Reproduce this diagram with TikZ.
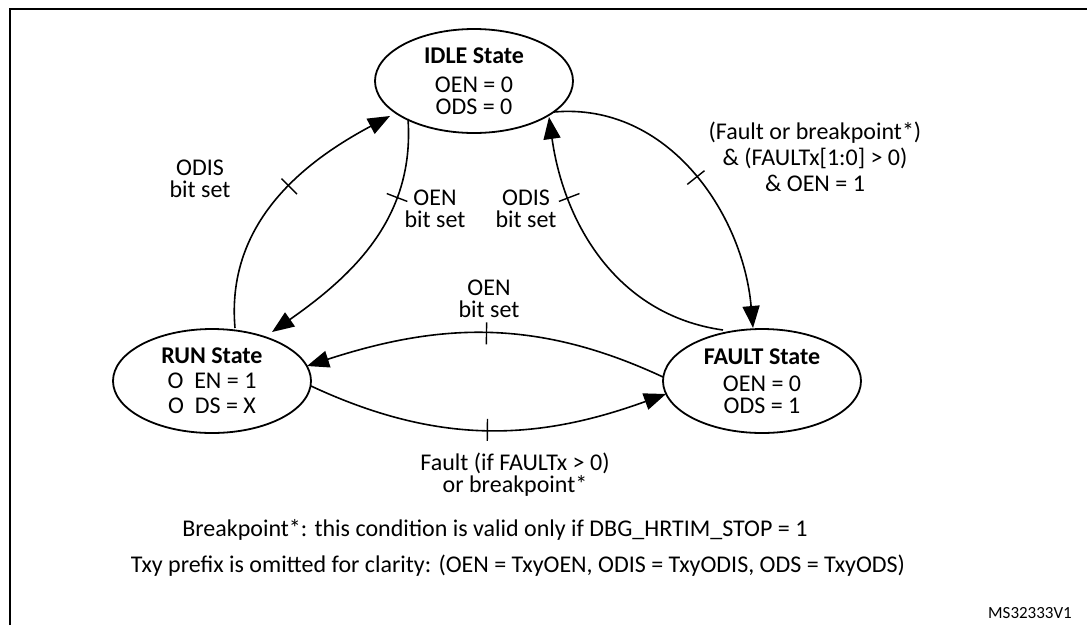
\documentclass[tikz,border=0pt]{standalone}
\usepackage{fontspec}
\setmainfont{Carlito}
\usetikzlibrary{arrows.meta,shapes.geometric,decorations.markings}
\begin{document}
\begin{tikzpicture}[x=1pt,y=-1pt,
  txt/.style={font=\fontsize{24}{22}\selectfont,align=center,inner sep=0pt},
  st/.style={draw,line width=1.8pt,ellipse,minimum width=198pt,minimum height=104pt,inner sep=0pt,align=center,font=\fontsize{24}{22}\selectfont},
  arc/.style={line width=1.6pt,-{Triangle[length=22pt,width=17pt]}},
  tick/.style={postaction={decorate},decoration={markings,mark=at position #1 with {\draw[-,line width=1.4pt] (0,-11pt)--(0,11pt);}}}]
\useasboundingbox (0,0) rectangle (1087,625);
\draw[line width=1.8pt] (10,625) -- (10,9) -- (1087,9);
\node[st] (idle) at (474,81) {\textbf{IDLE State}\\[7pt]OEN = 0\\ODS = 0};
\node[st] (run) at (212,381) {\textbf{RUN State}\\[3pt]O\ \ EN = 1\\[3pt]O\ \ DS = X};
\node[st] (fault) at (762,381) {\textbf{FAULT State}\\[5pt]OEN = 0\\ODS = 1};
\coordinate (r1) at (235,328); \coordinate (i1) at (390,116);
\coordinate (i2) at (408,119); \coordinate (r2) at (272,332);
\coordinate (f3) at (723,330); \coordinate (i3) at (549,117);
\coordinate (i4) at (554,112); \coordinate (f4) at (753,328);
\coordinate (f5) at (663,377); \coordinate (r5) at (307,366);
\coordinate (r6) at (311,386); \coordinate (f6) at (666,394);
\draw[arc,tick=0.56] (r1) to[out=95,in=208] (i1);
\draw[arc,tick=0.3] (i2) to[out=-86,in=35] (r2);
\draw[arc,tick=0.72] (f3) to[out=172,in=-82] (i3);
\draw[arc,tick=0.5] (i4) to[out=5,in=95] (f4);
\draw[arc,tick=0.5] (f5) to[out=155,in=18] (r5);
\draw[arc,tick=0.5] (r6) to[out=-25,in=200] (f6);
\node[txt] (l1) at (200,179) {ODIS\\bit set};
\node[txt] (l2) at (435,209) {OEN\\bit set};
\node[txt] (l3) at (526,209) {ODIS\\bit set};
\node[txt,font=\fontsize{24}{26}\selectfont] (l4) at (815,157) {(Fault or breakpoint*)\\\& (FAULTx[1:0] > 0)\\\& OEN = 1};
\node[txt] (l5) at (489,299) {OEN\\bit set};
\node[txt] (l6) at (515,475) {Fault (if FAULTx > 0)\\or breakpoint*};
\node[txt] (n1) at (495,530) {Breakpoint*: this condition is valid only if DBG\_HRTIM\_STOP = 1};
\node[txt] (n2) at (518,566) {Txy prefix is omitted for clarity: (OEN = TxyOEN, ODIS = TxyODIS, ODS = TxyODS)};
\node[txt,font=\fontsize{17}{17}\selectfont] (ms) at (1030,613) {MS32333V1};
\end{tikzpicture}
\end{document}
